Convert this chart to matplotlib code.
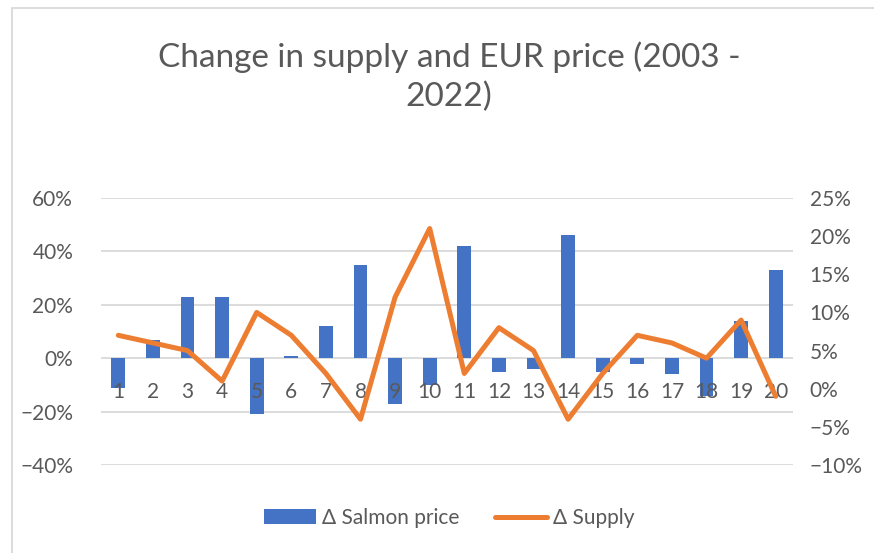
import numpy as np
from matplotlib import pyplot as plt
from matplotlib.patches import Rectangle
from matplotlib.ticker import PercentFormatter

plt.rcParams['font.family'] = ['Lato', 'DejaVu Sans']

# data (fractions)
periods = [str(i) for i in range(1, 21)]
salmon_price = [-0.11, 0.07, 0.23, 0.23, -0.21, 0.01, 0.12, 0.35, -0.17, -0.10,
                0.42, -0.05, -0.04, 0.46, -0.05, -0.02, -0.06, -0.14, 0.14, 0.33]
supply = [0.07, 0.06, 0.05, 0.01, 0.10, 0.07, 0.02, -0.04, 0.12, 0.21,
          0.02, 0.08, 0.05, -0.04, 0.02, 0.07, 0.06, 0.04, 0.09, -0.01]
left_ticks = [-0.4, -0.2, 0.0, 0.2, 0.4, 0.6]
right_ticks = [-0.10, -0.05, 0.0, 0.05, 0.10, 0.15, 0.20, 0.25]

grey = '#595959'
blue = '#4472C4'
orange = '#ED7D31'

fig = plt.figure(figsize=(8.74, 5.53), dpi=100)
ax1 = fig.add_axes([101 / 874, 88 / 553, 692 / 874, 267 / 553])
ax2 = ax1.twinx()

x = np.arange(len(periods))
bars = ax1.bar(x, salmon_price, width=0.4, color=blue, zorder=2, label='Δ Salmon price')
line, = ax2.plot(x, supply, color=orange, lw=3.6, solid_joinstyle='round',
                 solid_capstyle='round', zorder=3, label='Δ Supply')

ax1.set_xlim(-0.5, len(periods) - 0.5)
ax1.set_ylim(-0.4, 0.6)
ax1.set_yticks(left_ticks)
ax2.set_ylim(-0.10, 0.25)
ax2.set_yticks(right_ticks)
ax1.yaxis.set_major_formatter(PercentFormatter(1.0, decimals=0))
ax2.yaxis.set_major_formatter(PercentFormatter(1.0, decimals=0))
ax1.grid(axis='y', color='#d9d9d9', lw=1.3)
# grid under the bars, category labels over them
ax1.yaxis.set_zorder(0.5)
ax1.xaxis.set_zorder(3)

for ax in (ax1, ax2):
    for s in ax.spines.values():
        s.set_visible(False)
ax1.spines['bottom'].set_position(('data', 0))
ax1.set_xticks(x)
ax1.set_xticklabels(periods)
ax1.tick_params(axis='x', length=0, pad=17, labelsize=15, labelcolor=grey)
ax1.tick_params(axis='y', length=0, pad=20, labelsize=15, labelcolor=grey)
ax2.tick_params(axis='y', length=0, pad=12, labelsize=15, labelcolor=grey)
ax2.set_zorder(ax1.get_zorder() + 1)
ax1.patch.set_visible(False)

fig.text(449 / 874, 1 - 77 / 553, 'Change in supply and EUR price (2003 -\n2022)',
         ha='center', va='center', fontsize=24, color=grey, linespacing=1.35)

fig.legend(handles=[bars, line], loc='center', bbox_to_anchor=(449 / 874, 1 - 518 / 553),
           ncol=2, frameon=False, fontsize=15, labelcolor=grey, handlelength=2.5,
           handleheight=0.75, handletextpad=0.3, columnspacing=1.7)

# chart border
fig.patches.append(Rectangle((12 / 874, -0.1), 1.2, 1 - 8 / 553 + 0.1, transform=fig.transFigure,
                             fill=False, edgecolor='#d9d9d9', lw=1.3))

plt.savefig('out.png', dpi=100)
